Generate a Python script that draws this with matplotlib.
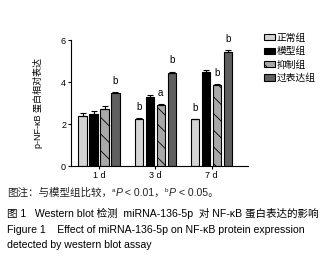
import matplotlib
matplotlib.use("Agg")
import matplotlib.pyplot as plt
import numpy as np
from matplotlib.patches import Patch

plt.rcParams['font.family'] = ['Liberation Sans', 'Noto Sans CJK SC', 'DejaVu Sans']
plt.rcParams['hatch.linewidth'] = 0.6

timepoints = ["1 d", "3 d", "7 d"]
groups = ["正常组", "模型组", "抑制组", "过表达组"]
values = {
    "正常组": [2.4, 2.25, 2.25],
    "模型组": [2.5, 3.3, 4.5],
    "抑制组": [2.7, 2.9, 3.85],
    "过表达组": [3.5, 4.45, 5.45],
}
errors = {
    "正常组": [0.12, 0.04, 0.0],
    "模型组": [0.12, 0.08, 0.06],
    "抑制组": [0.16, 0.04, 0.05],
    "过表达组": [0.03, 0.05, 0.06],
}
marks = {
    "正常组": ["", "b", "b"],
    "模型组": ["", "", ""],
    "抑制组": ["", "a", "b"],
    "过表达组": ["b", "b", "b"],
}
colors = ["#d4d4d4", "#000000", "#a8a8a8", "#606060"]
hatches = [None, None, "\\\\", None]

fig = plt.figure(figsize=(3.33, 2.62), dpi=100)
ax = fig.add_axes([0.213, 0.366, 0.532, 0.481])

x = np.arange(len(timepoints))
w = 0.15
offs = np.array([-1.5, -0.5, 0.5, 1.5]) * 0.195
for i, g in enumerate(groups):
    xs = x + offs[i]
    ax.bar(xs, values[g], w, color=colors[i], edgecolor="black", linewidth=0.8,
           hatch=hatches[i], zorder=2)
    ax.errorbar(xs, values[g], yerr=[np.zeros(3), errors[g]], fmt="none",
                ecolor="black", elinewidth=0.8, capsize=2, capthick=0.8, zorder=3)
    for xi, v, e, m in zip(xs, values[g], errors[g], marks[g]):
        if m:
            ax.text(xi, v + e + 0.3, m, ha="center", va="bottom", fontsize=7)

ax.set_ylim(0, 6)
ax.set_yticks([0, 2, 4, 6])
ax.set_xlim(-0.5, 2.65)
ax.set_xticks(x)
ax.set_xticklabels(timepoints, fontsize=6.5)
ax.tick_params(axis="y", labelsize=6.5, length=2.5, width=0.8, pad=1)
ax.tick_params(axis="x", length=2.5, width=0.8, pad=1)
for s in ["top", "right"]:
    ax.spines[s].set_visible(False)
for s in ["left", "bottom"]:
    ax.spines[s].set_linewidth(0.8)
ax.set_ylabel("p-NF-κB 蛋白相对表达", fontsize=6.5, labelpad=13)

handles = [Patch(facecolor=colors[i], edgecolor="black", hatch=hatches[i], linewidth=0.8)
           for i in range(4)]
fig.legend(handles, groups, loc="upper left", bbox_to_anchor=(0.782, 0.89),
           frameon=False, fontsize=7, handlelength=1.15, handleheight=0.6,
           handletextpad=0.15, labelspacing=0.35, borderaxespad=0)

# caption line with superscripts and italics, drawn piece by piece
renderer = fig.canvas.get_renderer()
fs = 7.6
pieces = [
    ("图注：与模型组比较，", fs, "normal", 0),
    ("a", fs * 0.6, "normal", 3),
    ("P", fs, "italic", 0),
    (" < 0.01，", fs, "normal", 0),
    ("b", fs * 0.6, "normal", 3),
    ("P", fs, "italic", 0),
    (" < 0.05。", fs, "normal", 0),
]
xpix = 0.021 * fig.bbox.width
ybase = 262 - 193
for txt, size, style, dy in pieces:
    t = fig.text(xpix / fig.bbox.width, (ybase + dy) / fig.bbox.height, txt,
                 fontsize=size, style=style, va="center", color="#222222")
    bb = t.get_window_extent(renderer)
    xpix += bb.width

fig.text(0.021, 0.185, "图 1   Western blot 检测  miRNA-136-5p  对 NF-κB 蛋白表达的影响",
         fontsize=fs, va="center")
fig.text(0.021, 0.124, "Figure 1    Effect of miRNA-136-5p on NF-κB protein expression",
         fontsize=fs, va="center")
fig.text(0.021, 0.065, "detected by western blot assay", fontsize=fs, va="center")

fig.savefig("out.png", dpi=100)
